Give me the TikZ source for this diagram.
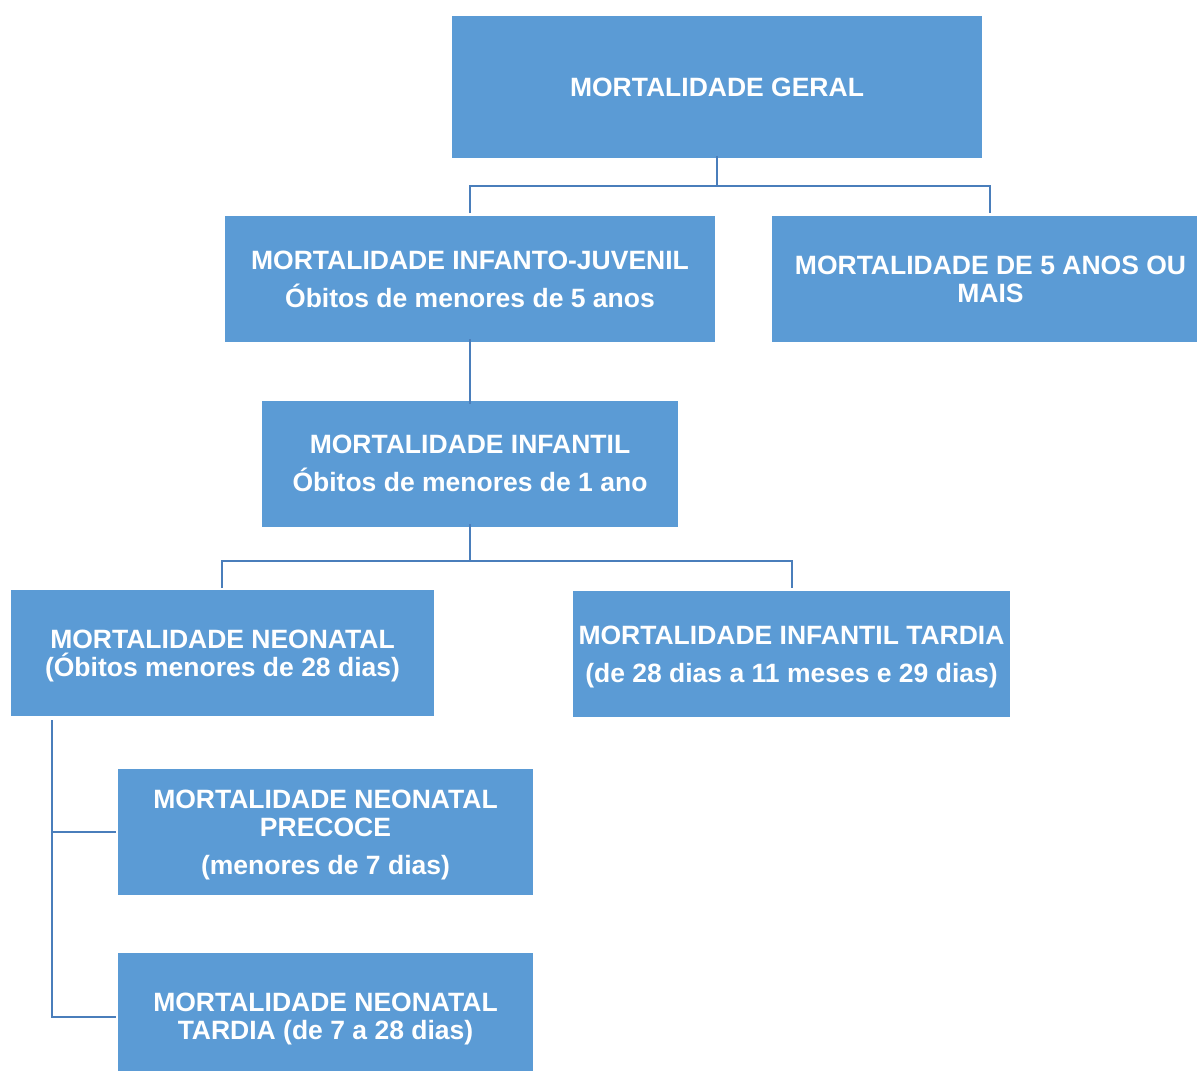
\documentclass[tikz,border=0pt]{standalone}
\usepackage{fontspec}
\setmainfont{Liberation Sans}
\definecolor{boxblue}{HTML}{5B9BD5}
\definecolor{linkblue}{HTML}{4A7EBB}
\begin{document}
\begin{tikzpicture}[x=1pt,y=-1pt,
  box/.style={fill=boxblue,draw=none,inner sep=0pt,outer sep=0pt},
  lbl/.style={inner sep=0pt,text=white,
    font=\fontsize{26.5}{28}\selectfont\bfseries,align=center},
  conn/.style={draw=linkblue,line width=2.8pt}]
\clip (0,0) rectangle (1197,1071);
\fill[white] (0,0) rectangle (1197,1071);
% boxes
\node[box,minimum width=530,minimum height=142] (gen) at (717,87) {};
\node[box,minimum width=490,minimum height=126] (ij) at (470,279) {};
\node[box,minimum width=425,minimum height=126] (cinco) at (984.5,279) {};
\node[box,minimum width=416,minimum height=126] (inf) at (470,464) {};
\node[box,minimum width=423,minimum height=126] (neo) at (222.5,653) {};
\node[box,minimum width=437,minimum height=126] (tard) at (791.5,654) {};
\node[box,minimum width=415,minimum height=126] (prec) at (325.5,832) {};
\node[box,minimum width=415,minimum height=126] (ntard) at (325.5,1016) {};
% texts
\node[lbl] (gen-t) at (gen.center) {MORTALIDADE GERAL};
\node[lbl] (ij-t) at (ij.center) {MORTALIDADE INFANTO-JUVENIL\\[10pt]Óbitos de menores de 5 anos};
\node[lbl] (cinco-t) at ([xshift=6]cinco.center) {MORTALIDADE DE 5 ANOS OU\\MAIS};
\node[lbl] (inf-t) at ([yshift=1]inf.center) {MORTALIDADE INFANTIL\\[10pt]Óbitos de menores de 1 ano};
\node[lbl] (neo-t) at ([yshift=-3]neo.center) {MORTALIDADE NEONATAL\\(Óbitos menores de 28 dias)};
\node[lbl] (tard-t) at ([yshift=-3]tard.center) {MORTALIDADE INFANTIL TARDIA\\[10pt](de 28 dias a 11 meses e 29 dias)};
\node[lbl] (prec-t) at ([yshift=-3]prec.center) {MORTALIDADE NEONATAL\\PRECOCE\\[10pt](menores de 7 dias)};
\node[lbl] (ntard-t) at ([yshift=-3]ntard.center) {MORTALIDADE NEONATAL\\TARDIA (de 7 a 28 dias)};
% junctions
\coordinate (j1) at (717,186);
\coordinate (j1l) at (470,186);
\coordinate (j1r) at (990,186);
\coordinate (e1l) at (470,213);
\coordinate (e1r) at (990,213);
\coordinate (j2) at (470,561);
\coordinate (j2l) at (222,561);
\coordinate (j2r) at (792,561);
\coordinate (e2l) at (222,588);
\coordinate (e2r) at (792,588);
\coordinate (n0) at (52,720);
\coordinate (n1) at (52,832);
\coordinate (n2) at (52,1017);
\coordinate (p1) at (116,832);
\coordinate (p2) at (116,1017);
% connectors
\draw[conn] ([yshift=2]gen.south) -- (j1);
\draw[conn] (e1l) -- (j1l) -- (j1r) -- (e1r);
\draw[conn] ([yshift=3]ij.south) -- ([yshift=-3]inf.north);
\draw[conn] ([yshift=3]inf.south) -- (j2);
\draw[conn] (e2l) -- (j2l) -- (j2r) -- (e2r);
\draw[conn] (n0) -- (n2) -- (p2);
\draw[conn] (n1) -- (p1);
\end{tikzpicture}
\end{document}
